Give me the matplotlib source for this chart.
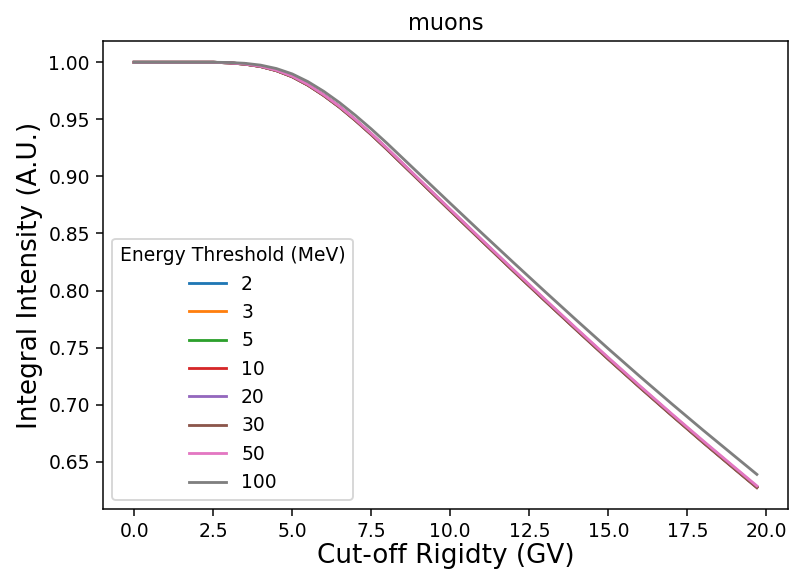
import matplotlib
matplotlib.use("Agg")
import matplotlib.pyplot as plt

# cut-off rigidity (GV)
rigidity = [0, 1, 2, 2.5, 3, 3.5, 4, 4.5, 5, 5.5, 6, 6.5, 7, 7.5, 8,
            9, 10, 11, 12, 13, 14, 15, 16, 17, 18, 19, 19.7]

thresholds = ["2", "3", "5", "10", "20", "30", "50", "100"]

# integral intensity, one list per energy threshold (MeV)
i_2 = [1.0000, 1.0000, 1.0000, 1.0000, 0.9995, 0.9984, 0.9963, 0.9927, 0.9874,
       0.9800, 0.9710, 0.9607, 0.9492, 0.9369, 0.9239, 0.8971, 0.8702, 0.8436,
       0.8172, 0.7912, 0.7655, 0.7401, 0.7153, 0.6910, 0.6671, 0.6438, 0.6276]
i_3 = [1.0000, 1.0000, 1.0000, 1.0000, 0.9995, 0.9984, 0.9963, 0.9927, 0.9874,
       0.9800, 0.9710, 0.9608, 0.9493, 0.9370, 0.9240, 0.8972, 0.8703, 0.8437,
       0.8173, 0.7913, 0.7656, 0.7402, 0.7154, 0.6911, 0.6672, 0.6439, 0.6277]
i_5 = [1.0000, 1.0000, 1.0000, 1.0000, 0.9995, 0.9984, 0.9964, 0.9928, 0.9875,
       0.9801, 0.9711, 0.9608, 0.9493, 0.9370, 0.9240, 0.8972, 0.8703, 0.8437,
       0.8173, 0.7913, 0.7656, 0.7403, 0.7155, 0.6912, 0.6673, 0.6440, 0.6278]
i_10 = [1.0000, 1.0000, 1.0000, 1.0000, 0.9995, 0.9984, 0.9964, 0.9928, 0.9875,
        0.9801, 0.9711, 0.9609, 0.9494, 0.9371, 0.9241, 0.8973, 0.8704, 0.8438,
        0.8174, 0.7914, 0.7657, 0.7404, 0.7156, 0.6913, 0.6674, 0.6441, 0.6279]
i_20 = [1.0000, 1.0000, 1.0000, 1.0000, 0.9995, 0.9985, 0.9964, 0.9929, 0.9876,
        0.9802, 0.9712, 0.9610, 0.9495, 0.9372, 0.9242, 0.8974, 0.8705, 0.8439,
        0.8176, 0.7916, 0.7659, 0.7406, 0.7158, 0.6915, 0.6677, 0.6444, 0.6281]
i_30 = [1.0000, 1.0000, 1.0000, 1.0000, 0.9995, 0.9984, 0.9962, 0.9926, 0.9872,
        0.9798, 0.9707, 0.9604, 0.9489, 0.9365, 0.9235, 0.8967, 0.8698, 0.8432,
        0.8168, 0.7908, 0.7651, 0.7397, 0.7149, 0.6906, 0.6667, 0.6434, 0.6272]
i_50 = [1.0000, 1.0000, 1.0000, 1.0000, 0.9995, 0.9985, 0.9965, 0.9930, 0.9878,
        0.9805, 0.9715, 0.9613, 0.9499, 0.9376, 0.9247, 0.8979, 0.8711, 0.8445,
        0.8182, 0.7922, 0.7665, 0.7412, 0.7164, 0.6921, 0.6683, 0.6450, 0.6288]
i_100 = [1.0000, 1.0000, 1.0000, 1.0000, 0.9998, 0.9991, 0.9975, 0.9945, 0.9898,
         0.9830, 0.9745, 0.9646, 0.9535, 0.9416, 0.9290, 0.9027, 0.8764, 0.8503,
         0.8245, 0.7990, 0.7738, 0.7490, 0.7247, 0.7009, 0.6776, 0.6548, 0.6389]

curves = [i_2, i_3, i_5, i_10, i_20, i_30, i_50, i_100]

fig = plt.figure(figsize=(791 / 135, 570 / 135), dpi=135)
ax = fig.add_axes([103 / 791, 61 / 570, 685 / 791, 468 / 570])

for lab, vals in zip(thresholds, curves):
    ax.plot(rigidity, vals, label=lab)

ax.set_title("muons")
ax.set_xlabel("Cut-off Rigidty (GV)", fontsize=14, labelpad=1)
ax.set_ylabel("Integral Intensity (A.U.)", fontsize=14, labelpad=3)
ax.legend(title="Energy Threshold (MeV)", loc="lower left")

fig.savefig("out.png", dpi=135)
